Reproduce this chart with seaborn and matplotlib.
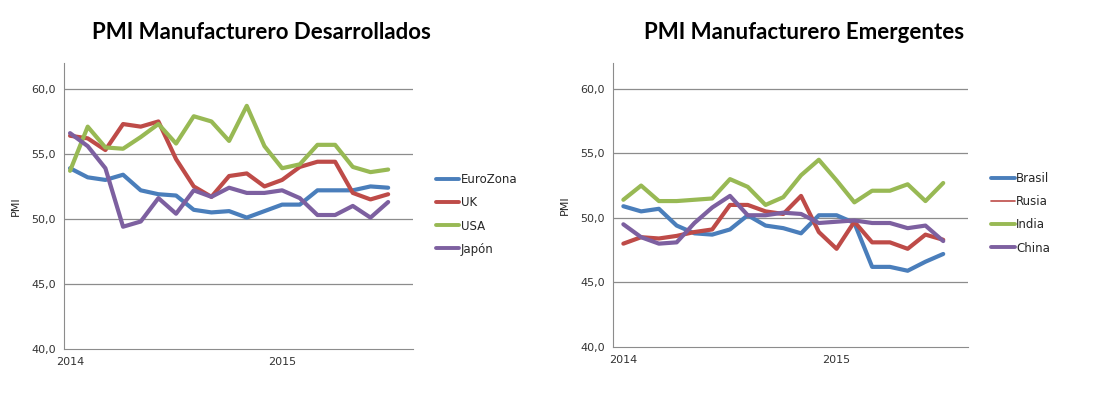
import pandas as pd
import matplotlib.pyplot as plt
import seaborn as sns
from matplotlib.lines import Line2D

# monthly PMI, Jan 2014 .. Jul 2015
months = list(range(19))
year_ticks = [0, 12]
year_labels = ['2014', '2015']

eurozona = [53.9, 53.2, 53.0, 53.4, 52.2, 51.9, 51.8, 50.7, 50.5, 50.6, 50.1, 50.6, 51.1, 51.1, 52.2, 52.2, 52.2, 52.5, 52.4]
uk = [56.4, 56.2, 55.3, 57.3, 57.1, 57.5, 54.6, 52.5, 51.7, 53.3, 53.5, 52.5, 53.0, 54.0, 54.4, 54.4, 52.0, 51.5, 51.9]
usa = [53.7, 57.1, 55.5, 55.4, 56.3, 57.3, 55.8, 57.9, 57.5, 56.0, 58.7, 55.6, 53.9, 54.2, 55.7, 55.7, 54.0, 53.6, 53.8]
japon = [56.6, 55.6, 53.9, 49.4, 49.8, 51.6, 50.4, 52.2, 51.7, 52.4, 52.0, 52.0, 52.2, 51.6, 50.3, 50.3, 51.0, 50.1, 51.3]

brasil = [50.9, 50.5, 50.7, 49.4, 48.8, 48.7, 49.1, 50.2, 49.4, 49.2, 48.8, 50.2, 50.2, 49.6, 46.2, 46.2, 45.9, 46.6, 47.2]
rusia = [48.0, 48.5, 48.4, 48.6, 48.9, 49.1, 51.0, 51.0, 50.5, 50.3, 51.7, 48.9, 47.6, 49.7, 48.1, 48.1, 47.6, 48.7, 48.3]
india = [51.4, 52.5, 51.3, 51.3, 51.4, 51.5, 53.0, 52.4, 51.0, 51.6, 53.3, 54.5, 52.9, 51.2, 52.1, 52.1, 52.6, 51.3, 52.7]
china = [49.5, 48.5, 48.0, 48.1, 49.6, 50.8, 51.7, 50.2, 50.2, 50.4, 50.3, 49.6, 49.7, 49.8, 49.6, 49.6, 49.2, 49.4, 48.2]

dev = {'EuroZona': eurozona, 'UK': uk, 'USA': usa, 'Japón': japon}
emg = {'Brasil': brasil, 'Rusia': rusia, 'India': india, 'China': china}

colors4 = ['#4A7EBB', '#BE4B48', '#98B954', '#7D60A0']

sns.set_style("white")
plt.rcParams['font.family'] = ['DejaVu Sans']

fig = plt.figure(figsize=(11.04, 3.96), dpi=100)
ax1 = fig.add_axes([0.058, 0.119, 0.316, 0.722])
ax2 = fig.add_axes([0.5553, 0.124, 0.3216, 0.717])


def long_df(series):
    rows = []
    for name, vals in series.items():
        for m, v in zip(months, vals):
            rows.append({'mes': m, 'PMI': v, 'serie': name})
    return pd.DataFrame(rows)


def draw(ax, series, title, xlim, legend_x, title_x, thin=None):
    df = long_df(series)
    names = list(series.keys())
    pal = dict(zip(names, colors4))
    sns.lineplot(data=df, x='mes', y='PMI', hue='serie', palette=pal, linewidth=3,
                 ax=ax, legend=False)
    ax.set_ylim(40, 62)
    ax.set_xlim(*xlim)
    ax.set_yticks([40, 45, 50, 55, 60])
    ax.set_yticklabels(['40,0', '45,0', '50,0', '55,0', '60,0'], fontsize=8, color='#333333')
    ax.set_xticks(year_ticks)
    ax.set_xticklabels(year_labels, fontsize=8, color='#333333')
    ax.tick_params(axis='both', length=0, pad=6)
    for v in [45, 50, 55, 60]:
        ax.axhline(v, color='#8c8c8c', linewidth=0.9, zorder=0)
    for s in ['top', 'right']:
        ax.spines[s].set_visible(False)
    ax.spines['left'].set_color('#8c8c8c')
    ax.spines['bottom'].set_color('#8c8c8c')
    ax.set_xlabel('')
    ax.set_ylabel('PMI', fontsize=8, labelpad=7)
    ax.set_title(title, fontsize=16, fontweight='bold', family=['Lato', 'DejaVu Sans'],
                 color='black', x=title_x, pad=17)
    handles = []
    for n, c in zip(names, colors4):
        lw = 1.2 if n == thin else 2.8
        handles.append(Line2D([0], [0], color=c, linewidth=lw))
    ax.legend(handles, names, loc='center left', bbox_to_anchor=(legend_x, 0.47),
              frameon=False, fontsize=8.5, handlelength=2.0, handletextpad=0.1,
              labelspacing=0.85)


draw(ax1, dev, 'PMI Manufacturero Desarrollados', (-0.34, 19.4), 1.035, 0.567)
draw(ax2, emg, 'PMI Manufacturero Emergentes', (-0.58, 19.4), 1.035, 0.538, thin='Rusia')

fig.savefig('out.png', dpi=100, facecolor='white')
